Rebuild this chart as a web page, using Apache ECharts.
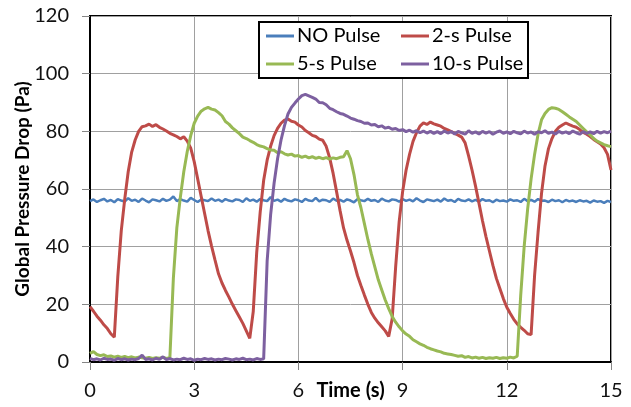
<!DOCTYPE html>
<html>
<head>
<meta charset="utf-8">
<script src="https://cdn.jsdelivr.net/npm/echarts@6/dist/echarts.min.js"></script>
<style>
  html, body { margin: 0; padding: 0; background: #fff; }
  #chart { width: 631px; height: 407px; }
</style>
</head>
<body>
<div id="chart"></div>
<script>
const dt = 0.1;
const seriesNames = ['NO Pulse', '2-s Pulse', '5-s Pulse', '10-s Pulse'];

const noPulse = [
  55.8,56.4,55.5,56.1,56.6,55.7,56.2,55.4,56.5,56.0,55.6,56.8,55.9,56.3,55.5,56.7,56.0,55.4,56.4,56.1,
  55.7,56.6,55.9,56.3,57.4,55.8,56.5,56.0,55.6,56.9,56.2,55.5,56.4,56.1,55.8,56.7,55.9,56.3,55.6,56.5,
  56.0,55.7,56.4,56.2,55.5,56.8,55.9,56.3,55.6,56.5,56.1,55.8,57.2,55.9,56.3,55.6,56.6,56.0,55.7,56.4,
  56.1,55.5,56.6,56.0,55.8,56.9,55.7,56.3,56.1,55.5,56.7,55.9,56.2,55.6,56.4,56.0,55.4,56.5,56.1,55.8,
  56.6,55.9,56.2,55.5,56.7,56.0,55.7,56.4,56.2,55.6,56.5,55.9,56.3,55.7,56.8,56.0,55.5,56.4,56.1,55.8,
  56.3,55.6,56.7,55.9,56.2,55.5,56.6,56.0,55.8,56.4,55.7,56.2,55.6,56.5,55.9,56.1,55.4,56.3,55.8,56.0,
  55.6,56.4,55.9,56.1,55.5,56.6,55.8,56.2,55.6,56.5,55.9,56.0,55.5,56.3,55.8,56.1,55.4,56.2,55.7,56.0,
  55.5,56.1,55.7,55.9,55.3,56.0,55.6,55.8,55.2,55.9,55.5
];

const pulse2s = [
  19.2,17.6,15.9,14.5,12.9,11.6,9.8,8.6,29.5,45.5,
  56.5,66.0,72.8,77.0,80.0,81.6,81.9,82.5,81.7,82.3,
  81.4,80.8,80.1,79.3,78.8,78.2,77.4,78.1,76.6,74.2,
  69.5,63.5,57.5,51.5,45.5,40.2,35.3,30.6,27.4,24.8,
  22.5,20.0,17.8,15.6,13.4,10.8,8.2,17.5,38.0,52.0,
  63.0,70.0,74.8,78.5,81.0,82.8,83.9,84.3,83.5,83.2,
  82.2,81.5,80.3,79.5,78.6,78.2,77.3,76.9,74.8,70.8,
  65.4,59.0,52.5,46.5,42.2,38.5,34.5,30.0,26.5,23.2,
  20.0,17.2,15.2,13.6,12.2,10.8,8.9,15.0,33.0,48.5,
  59.0,66.5,72.0,76.5,79.5,81.8,82.9,82.4,83.2,82.6,
  82.2,81.8,81.0,80.5,79.9,79.3,78.7,78.0,76.0,71.5,
  66.5,61.0,55.0,49.0,43.5,38.5,33.5,29.0,25.5,22.0,
  19.0,16.8,14.8,13.2,12.0,11.0,9.8,9.5,30.0,45.0,
  58.5,68.0,74.0,77.5,80.0,81.4,82.2,82.9,82.3,81.8,
  81.4,80.6,79.6,79.0,78.2,77.2,76.4,75.6,74.3,72.0,
  66.6
];

const pulse5s = [
  3.0,3.6,2.6,2.2,2.5,1.9,2.1,1.7,2.0,1.6,
  1.9,1.5,1.8,1.4,1.7,1.5,1.3,1.6,1.2,1.5,
  1.3,1.6,1.2,1.5,29.0,46.5,57.0,66.0,73.0,78.5,
  82.8,85.3,87.0,87.8,88.3,87.7,87.4,86.5,85.4,83.4,
  82.5,81.2,80.2,79.2,78.0,77.5,76.8,76.2,75.4,74.9,
  74.6,74.0,73.5,73.4,72.6,72.9,72.2,71.8,72.1,71.4,
  71.6,71.0,71.4,70.8,71.2,70.6,71.0,70.5,70.9,70.4,
  70.8,70.5,71.0,71.2,73.3,70.5,65.0,58.0,53.5,48.0,
  42.5,37.5,33.0,28.5,25.0,21.5,18.5,15.8,13.8,12.2,
  10.8,9.7,8.9,7.7,7.0,6.3,5.8,5.1,4.6,4.2,
  3.8,3.5,3.0,2.8,2.6,2.3,2.0,2.2,1.6,1.9,
  1.4,1.7,1.3,1.6,1.2,1.5,1.3,1.6,1.2,1.5,
  1.3,1.7,1.4,2.0,23.0,40.0,53.0,63.5,72.0,79.0,
  84.0,86.2,87.6,88.2,88.0,87.6,86.8,85.9,85.0,84.2,
  83.4,82.2,81.0,79.8,78.8,77.5,76.6,76.0,75.4,75.0,
  74.7
];

const pulse10s = [
  1.2,0.8,1.1,0.7,1.3,0.9,1.0,0.6,1.2,0.8,
  1.1,0.7,1.0,0.8,1.2,2.4,0.9,1.1,0.7,1.3,
  0.9,1.8,0.8,1.2,0.7,1.0,0.8,1.3,0.9,1.1,
  0.6,1.0,0.8,1.2,0.9,1.1,0.7,1.0,0.8,1.2,
  1.0,0.7,1.1,0.9,1.3,0.8,1.0,0.7,1.2,0.9,
  1.1,35.0,51.0,62.0,70.5,77.0,82.0,86.0,88.3,89.8,
  91.2,92.4,92.8,92.3,91.8,91.2,90.0,89.9,89.2,88.0,
  87.5,86.8,86.2,85.9,85.3,84.6,84.2,83.7,83.4,82.8,
  82.9,82.2,82.4,81.6,81.9,81.1,81.4,80.7,81.0,80.3,
  80.6,79.9,80.4,79.7,80.2,79.5,80.1,79.4,80.0,79.3,
  79.9,79.2,80.1,79.4,79.9,79.1,80.0,79.5,79.0,80.2,
  79.3,79.8,79.1,80.0,79.4,79.9,79.0,79.7,80.1,79.3,
  79.8,79.2,80.0,79.5,79.1,80.1,79.4,79.8,79.0,79.9,
  79.5,80.2,79.3,79.7,79.1,80.0,79.4,79.8,79.2,80.1,
  79.5,79.0,79.9,79.3,79.8,79.2,80.0,79.4,79.9,79.5,
  80.1
];

const colors = ['#4A7EBB', '#BE4B48', '#98B954', '#7D60A0'];
const widths = [2.5, 3, 3, 3];
const allValues = [noPulse, pulse2s, pulse5s, pulse10s];

const font = 'Lato';
const chart = echarts.init(document.getElementById('chart'));

function pairs(vals) {
  return vals.map((v, i) => [Math.round(i * dt * 10) / 10, v]);
}

const option = {
  animation: false,
  backgroundColor: '#fff',
  grid: {
    left: 90, right: 20, top: 16, bottom: 45,
    containLabel: false,
    outerBoundsMode: 'none',
    show: true,
    borderColor: '#000',
    borderWidth: 2
  },
  graphic: [{
    type: 'rect',
    z: 10,
    shape: { x: 259, y: 22, width: 269, height: 56 },
    style: { fill: '#fff', stroke: '#000', lineWidth: 2 }
  }],
  legend: [
    {
      data: [seriesNames[0], seriesNames[2]],
      orient: 'vertical',
      left: 266, top: 26,
      padding: 0,
      itemGap: 8,
      itemWidth: 28, itemHeight: 3,
      icon: 'rect',
      z: 11,
      textStyle: { fontFamily: font, fontSize: 20, color: '#000', padding: [0, 0, 0, -2] }
    },
    {
      data: [seriesNames[1], seriesNames[3]],
      orient: 'vertical',
      left: 401, top: 26,
      padding: 0,
      itemGap: 8,
      itemWidth: 28, itemHeight: 3,
      icon: 'rect',
      z: 11,
      textStyle: { fontFamily: font, fontSize: 20, color: '#000', padding: [0, 0, 0, -2] }
    }
  ],
  xAxis: {
    type: 'value',
    min: 0, max: 15, interval: 3,
    name: 'Time (s)',
    nameLocation: 'middle',
    nameGap: 19,
    nameMoveOverlap: false,
    nameTextStyle: { fontFamily: font, fontSize: 20, fontWeight: 'bold', color: '#000' },
    axisLine: { show: true, lineStyle: { color: '#000', width: 2 } },
    axisTick: { show: true, length: 8, lineStyle: { color: '#868686' } },
    axisLabel: { fontFamily: font, fontSize: 20, color: '#111', margin: 19 },
    splitLine: { show: true, lineStyle: { color: '#A0A0A0', width: 1 } }
  },
  yAxis: {
    type: 'value',
    min: 0, max: 120, interval: 20,
    name: 'Global Pressure Drop (Pa)',
    nameLocation: 'middle',
    nameGap: 58,
    nameMoveOverlap: false,
    nameTextStyle: { fontFamily: font, fontSize: 19, fontWeight: 'bold', color: '#000' },
    axisLine: { show: true, lineStyle: { color: '#000', width: 2 } },
    axisTick: { show: true, length: 8, lineStyle: { color: '#868686' } },
    axisLabel: { fontFamily: font, fontSize: 20, color: '#111', margin: 21 },
    splitLine: { show: true, lineStyle: { color: '#A0A0A0', width: 1 } }
  },
  series: allValues.map((vals, k) => ({
    name: seriesNames[k],
    type: 'line',
    data: pairs(vals),
    symbol: 'none',
    color: colors[k],
    lineStyle: { color: colors[k], width: widths[k] }
  }))
};

chart.setOption(option);
</script>
</body>
</html>
